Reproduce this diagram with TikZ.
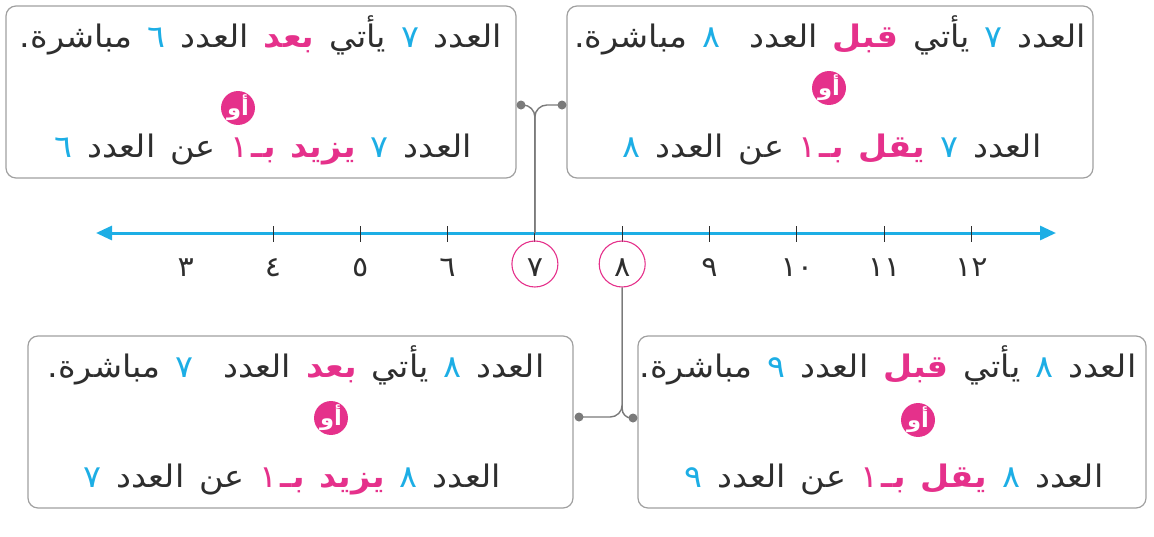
\documentclass[tikz,border=0pt]{standalone}
\usepackage{fontspec}
\usetikzlibrary{arrows.meta}
\newfontfamily\arabicfont[Script=Arabic,FakeStretch=1.08,WordSpace=1.4]{DejaVu Sans}
\newfontfamily\bluefont[Script=Arabic,FakeStretch=1.08,WordSpace=1.4,Color=1DAEE5]{DejaVu Sans}
\newfontfamily\pinkfont[Script=Arabic,FakeStretch=1.08,WordSpace=1.4,Color=E5318B]{DejaVu Sans}
\TeXXeTstate=1
\definecolor{lineblue}{HTML}{1DAEE5}
\definecolor{pinkc}{HTML}{E5318B}
\definecolor{boxgray}{HTML}{A0A0A0}
\definecolor{congray}{HTML}{7A7A7A}
\definecolor{txt}{HTML}{2E2E2E}
\newcommand\bnum[1]{{\bluefont #1}}
\newcommand\pkw[1]{{\pinkfont\bfseries #1}}
\newcommand\pnum[1]{{\pinkfont #1}}
\begin{document}
\begin{tikzpicture}[x=1pt,y=-1pt,
  box/.style={draw=boxgray, line width=1.2pt, rounded corners=10pt, minimum height=172pt},
  sent/.style={font=\arabicfont\fontsize{31}{34}\selectfont, text=txt, inner sep=0pt, anchor=base},
  orc/.style={circle, fill=pinkc, minimum size=31pt, inner sep=0pt, text=white, font=\arabicfont\bfseries\fontsize{21}{21}\selectfont},
  numlab/.style={font=\arabicfont\fontsize{28}{28}\selectfont, text=txt, inner sep=0pt},
  ring/.style={circle, draw=pinkc, line width=1.1pt, minimum size=46pt, inner sep=0pt},
  conn/.style={draw=congray, line width=1.4pt},
  dot/.style={fill=congray}
]
\useasboundingbox (0,0) rectangle (1154,536);

% boxes
\node[box, minimum width=510pt] (tl) at (261,92) {};
\node[box, minimum width=526pt] (tr) at (830,92) {};
\node[box, minimum width=545pt] (bl) at (300.5,422) {};
\node[box, minimum width=508pt] (br) at (892,422) {};

% number line
\draw[lineblue, line width=3pt, {Triangle[length=16pt,width=14pt]}-{Triangle[length=16pt,width=14pt]}] (96,233) -- (1056,233);
\foreach \n/\lab in {3/٣,4/٤,5/٥,6/٦,7/٧,8/٨,9/٩,10/١٠,11/١١,12/١٢}{
  \pgfmathsetmacro\xx{273+(\n-4)*87.3}
  \ifnum\n>3 \draw[txt, line width=0.9pt] (\xx,226) -- (\xx,242); \fi
  \coordinate (t\n) at (\xx,233);
  \node[numlab] (n\n) at (\xx,268) {\lab};
}
\node[ring] (c7) at (t7 |- 0,264) {};
\node[ring] (c8) at (t8 |- 0,264) {};

% top connector
\coordinate (dTL) at (521,105);
\coordinate (dTR) at (562,105);
\draw[conn, rounded corners=12pt] (t7) -- (t7 |- dTL) -- (dTL);
\draw[conn, rounded corners=12pt] (t7) -- (t7 |- dTR) -- (dTR);
\fill[dot] (dTL) circle (4.5);
\fill[dot] (dTR) circle (4.5);

% bottom connector
\coordinate (dBL) at (579,417);
\coordinate (dBR) at (633,418);
\draw[conn, rounded corners=12pt] (c8.south) -- (c8.south |- dBL) -- (dBL);
\draw[conn, rounded corners=9pt] (c8.south) -- (c8.south |- dBR) -- (dBR);
\fill[dot] (dBL) circle (4.5);
\fill[dot] (dBR) circle (4.5);

% texts top-left
\node[sent] (tl1) at (261,47) {\beginR العدد \bnum{٧} يأتي \pkw{بعد} العدد \bnum{٦} مباشرة\kern0pt.\endR};
\node[orc] (tlo) at (238,108) {أو};
\node[sent] (tl2) at (263,157) {\beginR العدد \bnum{٧} \pkw{يزيد} \pkw{بـ}\kern3pt\pnum{١} عن العدد \bnum{٦}\endR};

% texts top-right
\node[sent] (tr1) at (830,47) {\beginR العدد \bnum{٧} يأتي \pkw{قبل} العدد\ \ \bnum{٨} مباشرة\kern0pt.\endR};
\node[orc] (tro) at (829,88) {أو};
\node[sent] (tr2) at (832,157) {\beginR العدد \bnum{٧} \pkw{يقل} \pkw{بـ}\kern3pt\pnum{١} عن العدد \bnum{٨}\endR};

% texts bottom-left
\node[sent] (bl1) at (296,377) {\beginR العدد \bnum{٨} يأتي \pkw{بعد} العدد\ \ \bnum{٧} مباشرة\kern0pt.\endR};
\node[orc] (blo) at (331,418) {أو};
\node[sent] (bl2) at (292,487) {\beginR العدد \bnum{٨} \pkw{يزيد} \pkw{بـ}\kern3pt\pnum{١} عن العدد \bnum{٧}\endR};

% texts bottom-right
\node[sent] (br1) at (888,377) {\beginR العدد \bnum{٨} يأتي \pkw{قبل} العدد \bnum{٩} مباشرة\kern0pt.\endR};
\node[orc] (bro) at (918,420) {أو};
\node[sent] (br2) at (894,487) {\beginR العدد \bnum{٨} \pkw{يقل} \pkw{بـ}\kern3pt\pnum{١} عن العدد \bnum{٩}\endR};
\end{tikzpicture}
\end{document}
